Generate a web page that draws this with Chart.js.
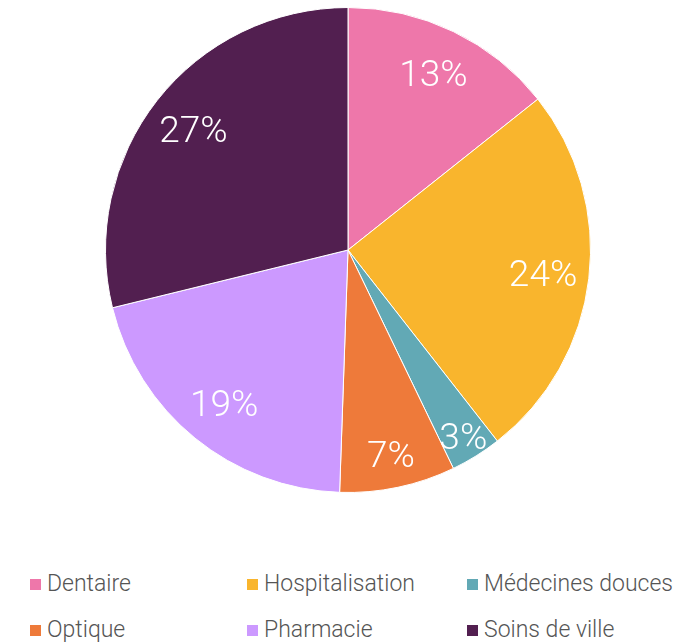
<!DOCTYPE html>
<html>
<head>
<meta charset="utf-8">
<script src="https://cdn.jsdelivr.net/npm/chart.js@4/dist/chart.umd.min.js"></script>
<style>
  body { margin: 0; background: #fff; width: 699px; height: 643px; overflow: hidden; position: relative; }
  #pie { position: absolute; left: 0; top: 0; }
  #legend { position: absolute; left: 0; top: 568px; width: 699px; font-family: Roboto, 'DejaVu Sans Condensed', sans-serif; font-weight: 300; font-size: 23px; color: #555; }
  .item { position: absolute; white-space: nowrap; line-height: 24px; }
  .box { display: inline-block; width: 11px; height: 11px; margin-right: 6px; vertical-align: 1px; }
</style>
</head>
<body>
<canvas id="pie" width="699" height="500"></canvas>
<div id="legend"></div>
<script>
// categories, shares measured from slice angles, printed labels
var categories = ['Dentaire', 'Hospitalisation', 'Médecines douces', 'Optique', 'Pharmacie', 'Soins de ville'];
var shares = [14.3, 25.1, 3.4, 7.7, 20.6, 28.8];
var labelTexts = ['13%', '24%', '3%', '7%', '19%', '27%'];
var colors = ['#EE77AA', '#F9B52D', '#62A9B5', '#EE7A3A', '#CC99FF', '#521F50'];

// legend grid positions
var legendCols = [30, 247, 467];
var legendRows = [4, 50];

var sliceLabels = {
    id: 'sliceLabels',
    afterDatasetsDraw: function(chart) {
        var ctx = chart.ctx;
        var meta = chart.getDatasetMeta(0);
        ctx.save();
        ctx.fillStyle = '#fff';
        ctx.font = '300 37px Roboto, "DejaVu Sans Condensed", sans-serif';
        ctx.textAlign = 'center';
        ctx.textBaseline = 'middle';
        meta.data.forEach(function(arc, i) {
            var mid = (arc.startAngle + arc.endAngle) / 2;
            var f = shares[i] < 5 ? 0.9 : (shares[i] < 10 ? 0.86 : 0.81);
            var r = arc.outerRadius * f;
            ctx.fillText(labelTexts[i], arc.x + Math.cos(mid) * r, arc.y + Math.sin(mid) * r + 4);
        });
        ctx.restore();
    }
};

var ctx = document.getElementById('pie').getContext('2d');
var myChart = new Chart(ctx, {
    type: 'pie',
    data: {
        labels: categories,
        datasets: [{
            data: shares,
            backgroundColor: colors,
            borderColor: '#fff',
            borderWidth: 1
        }]
    },
    options: {
        responsive: false,
        animation: false,
        layout: { padding: { top: 7, bottom: 7, left: 0, right: 3 } },
        plugins: {
            legend: { display: false },
            tooltip: { enabled: false }
        }
    },
    plugins: [sliceLabels]
});

// html legend in fixed columns
var legend = document.getElementById('legend');
categories.forEach(function(name, i) {
    var el = document.createElement('div');
    el.className = 'item';
    el.style.left = legendCols[i % 3] + 'px';
    el.style.top = legendRows[Math.floor(i / 3)] + 'px';
    el.innerHTML = '<span class="box" style="background:' + colors[i] + '"></span>' + name;
    legend.appendChild(el);
});
</script>
</body>
</html>
